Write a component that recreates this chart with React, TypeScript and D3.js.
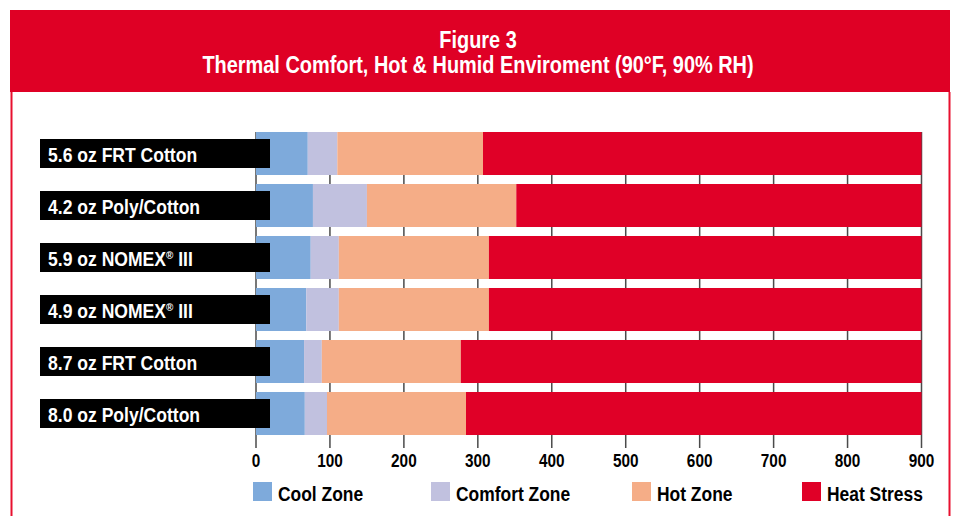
import * as d3 from 'd3';
import { useEffect, useRef } from 'react';

const fabrics = [
  '5.6 oz FRT Cotton',
  '4.2 oz Poly/Cotton',
  '5.9 oz NOMEX® III',
  '4.9 oz NOMEX® III',
  '8.7 oz FRT Cotton',
  '8.0 oz Poly/Cotton',
];
const zones = ['Cool Zone', 'Comfort Zone', 'Hot Zone', 'Heat Stress'];
const coolZone = [70, 77, 74, 68, 65, 66];
const comfortZone = [40, 73, 38, 44, 24, 30];
const hotZone = [197, 202, 203, 203, 188, 188];
const heatStress = [593, 548, 585, 585, 623, 616];
const xTicks = [0, 100, 200, 300, 400, 500, 600, 700, 800, 900];
const zoneColors = ['#7eaadb', '#c1c1df', '#f5ad87', '#e00027'];

// no condensed font installed, so squeeze Liberation Sans horizontally
const FONT = "'Liberation Sans', Arial, sans-serif";

const App = () => {
  const svgRef = useRef<any>();
  const width = 956;
  const height = 516;

  useEffect(() => {
    document.body.style.margin = '0';
    const svg = d3.select(svgRef.current);
    svg.selectAll('*').remove();

    // frame + header
    svg.append('rect').attr('x', 10).attr('y', 10).attr('width', 940).attr('height', 82).attr('fill', '#df0025');
    svg.append('line').attr('x1', 11.5).attr('x2', 11.5).attr('y1', 92).attr('y2', height).attr('stroke', '#e8102f').attr('stroke-width', 2);
    svg.append('line').attr('x1', 949.5).attr('x2', 949.5).attr('y1', 92).attr('y2', height).attr('stroke', '#e8102f').attr('stroke-width', 2);

    const title = svg.append('g').attr('font-family', FONT).attr('font-weight', 'bold').attr('fill', '#fff').attr('text-anchor', 'middle').attr('font-size', 24);
    title.append('text').attr('transform', 'translate(478,48) scale(0.83,1)').text('Figure 3');
    title.append('text').attr('transform', 'translate(478,73) scale(0.83,1)').text('Thermal Comfort, Hot & Humid Enviroment (90°F, 90% RH)');

    const x = d3.scaleLinear().domain([0, 900]).range([256, 921.5]);
    const y = d3.scaleBand().domain(fabrics).range([127.5, 439.5]).paddingInner(0.173).paddingOuter(0.0865);

    // grid lines behind the bars
    svg
      .append('g')
      .selectAll('line')
      .data(xTicks)
      .enter()
      .append('line')
      .attr('x1', (d) => x(d))
      .attr('x2', (d) => x(d))
      .attr('y1', y(fabrics[0])!)
      .attr('y2', 448)
      .attr('stroke', '#4a4a4a')
      .attr('stroke-width', 1.5);

    const rows = fabrics.map((f, i) => ({
      fabric: f,
      'Cool Zone': coolZone[i],
      'Comfort Zone': comfortZone[i],
      'Hot Zone': hotZone[i],
      'Heat Stress': heatStress[i],
    }));
    const series = d3.stack<any>().keys(zones)(rows);

    svg
      .append('g')
      .selectAll('g')
      .data(series)
      .enter()
      .append('g')
      .attr('fill', (_, i) => zoneColors[i])
      .selectAll('rect')
      .data((s) => s)
      .enter()
      .append('rect')
      .attr('x', (d) => x(d[0]))
      .attr('width', (d) => x(d[1]) - x(d[0]))
      .attr('y', (d) => y(d.data.fabric)!)
      .attr('height', y.bandwidth());

    // category labels on black boxes
    const labels = svg
      .append('g')
      .selectAll('g')
      .data(fabrics)
      .enter()
      .append('g')
      .attr('transform', (d) => `translate(0,${y(d)! + y.bandwidth() / 2})`);
    labels.append('rect').attr('x', 40).attr('y', -14.5).attr('width', 230).attr('height', 29).attr('fill', '#000');
    labels.each(function (d) {
      const t = d3
        .select(this)
        .append('text')
        .attr('transform', 'translate(48,8) scale(0.9,1)')
        .attr('fill', '#fff')
        .attr('font-family', FONT)
        .attr('font-weight', 'bold')
        .attr('font-size', 19.5);
      if (d.includes('®')) {
        const [a, b] = d.split('®');
        t.append('tspan').text(a);
        t.append('tspan').attr('font-size', 11).attr('dy', -7).text('®');
        t.append('tspan').attr('dy', 7).text(b);
      } else {
        t.text(d);
      }
    });

    // tick labels
    svg
      .append('g')
      .selectAll('text')
      .data(xTicks)
      .enter()
      .append('text')
      .attr('transform', (d) => `translate(${x(d)},467) scale(0.83,1)`)
      .attr('text-anchor', 'middle')
      .attr('font-family', FONT)
      .attr('font-weight', 'bold')
      .attr('font-size', 18.5)
      .attr('fill', '#000')
      .text((d) => d);

    // legend
    const legendX = [253, 431, 632, 802];
    const legend = svg
      .append('g')
      .selectAll('g')
      .data(zones)
      .enter()
      .append('g')
      .attr('transform', (_, i) => `translate(${legendX[i]},482)`);
    legend.append('rect').attr('width', 19).attr('height', 19).attr('fill', (_, i) => zoneColors[i]);
    legend
      .append('text')
      .attr('transform', 'translate(25,18.5) scale(0.83,1)')
      .attr('font-family', FONT)
      .attr('font-weight', 'bold')
      .attr('font-size', 21)
      .attr('fill', '#000')
      .text((d) => d);
  }, []);

  return <svg ref={svgRef} width={width} height={height} style={{ display: 'block', background: '#fff' }} />;
};

export default App;
